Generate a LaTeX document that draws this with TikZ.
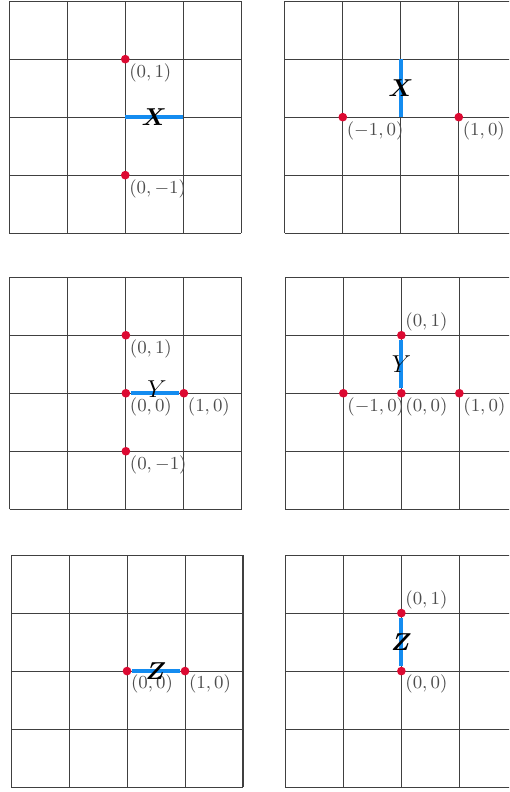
\documentclass[tikz,border=0pt]{standalone}
\usepackage{bm}
\usepackage{tikz}
\usetikzlibrary{positioning}
\definecolor{segblue}{RGB}{20,140,240}
\definecolor{ptred}{RGB}{220,10,50}

\begin{document}
\begin{tikzpicture}[
      x=1cm, y=1cm,
      gridline/.style={draw=black!75, line width=0.5pt},
      pt/.style={circle, fill=ptred, inner sep=0pt, minimum size=1.5mm},
      lab/.style={font=\fontsize{8.7}{10}\selectfont, text=black!70, inner sep=1pt},
      seg/.style={draw=segblue, line width=2pt},
      letter/.style={font=\large, inner sep=0pt},
    ]
    \useasboundingbox (0,0) rectangle (8.776,-13.655);
    \clip (0,0) rectangle (8.776,-13.655);
    % six 4x4 grids, centred on the origin of each panel
    \foreach \cx/\cy in {2.16/-2.02, 6.91/-2.02, 2.17/-6.78,
        6.92/-6.78, 2.19/-11.57, 6.92/-11.57}
      \draw[gridline, shift={(\cx,\cy)}] (-2,-2) grid (2,2);
    % X, horizontal edge
    \begin{scope}[shift={(2.16,-2.02)}]
      \coordinate (xh0) at (0,0);
      \coordinate (xh1) at (1,0);
      \node[pt] (xhn) at (0,1) {};
      \node[pt] (xhs) at (0,-1) {};
      \node[lab, below right=-1.2pt of xhn] (xhnl) {$(0,1)$};
      \node[lab, below right=-1.2pt of xhs] (xhsl) {$(0,-1)$};
      \draw[seg] (xh0) -- node[letter] (xhl) {$\bm{X}$} (xh1);
    \end{scope}
    % X, vertical edge
    \begin{scope}[shift={(6.91,-2.02)}]
      \coordinate (xv0) at (0,0);
      \coordinate (xv1) at (0,1);
      \node[pt] (xvw) at (-1,0) {};
      \node[pt] (xve) at (1,0) {};
      \node[lab, below right=-1.2pt of xvw] (xvwl) {$(-1,0)$};
      \node[lab, below right=-1.2pt of xve] (xvel) {$(1,0)$};
      \draw[seg] (xv0) -- node[letter] (xvl) {$\bm{X}$} (xv1);
    \end{scope}
    % Y, horizontal edge
    \begin{scope}[shift={(2.17,-6.78)}]
      \node[pt] (yh0) at (0,0) {};
      \node[pt] (yh1) at (1,0) {};
      \node[pt] (yhn) at (0,1) {};
      \node[pt] (yhs) at (0,-1) {};
      \node[lab, below right=-1.2pt of yhn] (yhnl) {$(0,1)$};
      \node[lab, below right=-1.2pt of yh0] (yh0l) {$(0,0)$};
      \node[lab, below right=-1.2pt of yh1] (yh1l) {$(1,0)$};
      \node[lab, below right=-1.2pt of yhs] (yhsl) {$(0,-1)$};
      \draw[seg] (yh0) -- node[letter, xshift=1pt, yshift=2pt] (yhl) {$Y$} (yh1);
    \end{scope}
    % Y, vertical edge
    \begin{scope}[shift={(6.92,-6.78)}]
      \node[pt] (yv0) at (0,0) {};
      \node[pt] (yv1) at (0,1) {};
      \node[pt] (yvw) at (-1,0) {};
      \node[pt] (yve) at (1,0) {};
      \node[lab, above right=-1.2pt of yv1] (yv1l) {$(0,1)$};
      \node[lab, below right=-1.2pt of yvw] (yvwl) {$(-1,0)$};
      \node[lab, below right=-1.2pt of yv0] (yv0l) {$(0,0)$};
      \node[lab, below right=-1.2pt of yve] (yvel) {$(1,0)$};
      \draw[seg] (yv0) -- node[letter] (yvl) {$Y$} (yv1);
    \end{scope}
    % Z, horizontal edge
    \begin{scope}[shift={(2.19,-11.57)}]
      \node[pt] (zh0) at (0,0) {};
      \node[pt] (zh1) at (1,0) {};
      \node[lab, below right=-1.2pt of zh0] (zh0l) {$(0,0)$};
      \node[lab, below right=-1.2pt of zh1] (zh1l) {$(1,0)$};
      \draw[seg] (zh0) -- node[letter] (zhl) {$\bm{Z}$} (zh1);
    \end{scope}
    % Z, vertical edge
    \begin{scope}[shift={(6.92,-11.57)}]
      \node[pt] (zv0) at (0,0) {};
      \node[pt] (zv1) at (0,1) {};
      \node[lab, above right=-1.2pt of zv1] (zv1l) {$(0,1)$};
      \node[lab, below right=-1.2pt of zv0] (zv0l) {$(0,0)$};
      \draw[seg] (zv0) -- node[letter] (zvl) {$\bm{Z}$} (zv1);
    \end{scope}
  \end{tikzpicture}
\end{document}
